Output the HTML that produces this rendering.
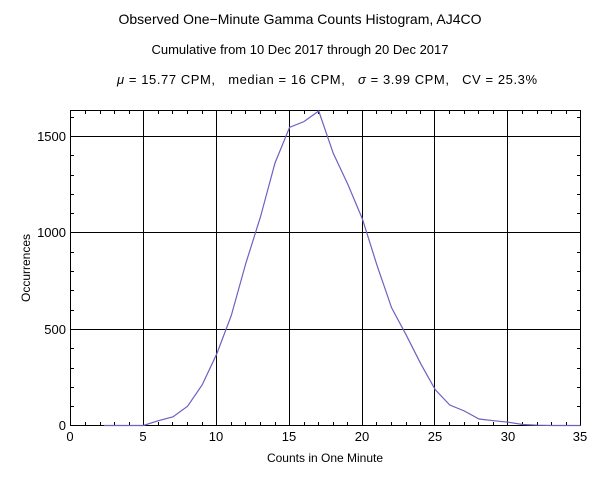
<!DOCTYPE html>
<html><head><style>body{margin:0;background:#fff}</style></head><body>
<svg width="600" height="485" xmlns="http://www.w3.org/2000/svg" font-family="Liberation Sans, sans-serif">
<rect width="600" height="485" fill="#fff"/>
<text x="300" y="24" font-size="14" text-anchor="middle">Observed One−Minute Gamma Counts Histogram, AJ4CO</text>
<text x="300" y="54" font-size="13" text-anchor="middle">Cumulative from 10 Dec 2017 through 20 Dec 2017</text>
<text x="117" y="84" font-size="13" textLength="420" lengthAdjust="spacing" xml:space="preserve"><tspan font-style="italic">μ</tspan> = 15.77 CPM,   median = 16 CPM,   <tspan font-style="italic">σ</tspan> = 3.99 CPM,   CV = 25.3%</text>
<g stroke="#000" stroke-width="1" fill="none">
<rect x="70.5" y="110.5" width="510" height="315"/>
</g>
<g stroke="#000" stroke-width="1">
<line x1="143.5" y1="110" x2="143.5" y2="426"/>
<line x1="216.5" y1="110" x2="216.5" y2="426"/>
<line x1="289.5" y1="110" x2="289.5" y2="426"/>
<line x1="362.5" y1="110" x2="362.5" y2="426"/>
<line x1="434.5" y1="110" x2="434.5" y2="426"/>
<line x1="507.5" y1="110" x2="507.5" y2="426"/>
<line x1="70" y1="136.5" x2="581" y2="136.5"/>
<line x1="70" y1="232.5" x2="581" y2="232.5"/>
<line x1="70" y1="329.5" x2="581" y2="329.5"/>
</g>
<g stroke="#000" stroke-width="1">
<path d="
M85.5 426v-4M100.5 426v-4M114.5 426v-4M129.5 426v-4M158.5 426v-4M172.5 426v-4M187.5 426v-4M202.5 426v-4M231.5 426v-4M245.5 426v-4M260.5 426v-4M275.5 426v-4M304.5 426v-4M318.5 426v-4M333.5 426v-4M347.5 426v-4M376.5 426v-4M391.5 426v-4M406.5 426v-4M420.5 426v-4M449.5 426v-4M464.5 426v-4M478.5 426v-4M493.5 426v-4M522.5 426v-4M537.5 426v-4M551.5 426v-4M566.5 426v-4
M85.5 110v4M100.5 110v4M114.5 110v4M129.5 110v4M158.5 110v4M172.5 110v4M187.5 110v4M202.5 110v4M231.5 110v4M245.5 110v4M260.5 110v4M275.5 110v4M304.5 110v4M318.5 110v4M333.5 110v4M347.5 110v4M376.5 110v4M391.5 110v4M406.5 110v4M420.5 110v4M449.5 110v4M464.5 110v4M478.5 110v4M493.5 110v4M522.5 110v4M537.5 110v4M551.5 110v4M566.5 110v4
M70 406.5h4M70 387.5h4M70 368.5h4M70 348.5h4M70 310.5h4M70 290.5h4M70 271.5h4M70 252.5h4M70 213.5h4M70 194.5h4M70 175.5h4M70 155.5h4M70 117.5h4
M581 406.5h-4M581 387.5h-4M581 368.5h-4M581 348.5h-4M581 310.5h-4M581 290.5h-4M581 271.5h-4M581 252.5h-4M581 213.5h-4M581 194.5h-4M581 175.5h-4M581 155.5h-4M581 117.5h-4"/>
</g>
<polyline fill="none" stroke="#6a62c0" stroke-width="1.2" points="104,425.5 114.6,425.5 129.2,425.5 143.3,425.5 158.4,420.7 173,416.8 187.6,406.2 202.1,385 216.7,354 231.3,315.5 245.8,263.4 260.4,217.1 275,163 289.6,127.3 304.1,121.5 318.7,111 333.3,153.4 347.8,184.3 362.4,219 377,265.3 391.6,307.8 406.1,334.8 420.7,363.7 435.3,389.8 449.8,405 464.4,411 479,419 493.5,420.7 508.1,422.2 522.7,424.5 537.3,425.2 551.8,425.5 566.4,425.5 580.5,425.5"/>
<g font-size="13" text-anchor="end">
<text x="66" y="430">0</text>
<text x="66" y="334">500</text>
<text x="66" y="237">1000</text>
<text x="66" y="141">1500</text>
</g>
<g font-size="13" text-anchor="middle">
<text x="70" y="441">0</text>
<text x="143" y="441">5</text>
<text x="216" y="441">10</text>
<text x="289" y="441">15</text>
<text x="362" y="441">20</text>
<text x="435" y="441">25</text>
<text x="508" y="441">30</text>
<text x="580" y="441">35</text>
<text x="325" y="462" font-size="12">Counts in One Minute</text>
<text transform="translate(30,268) rotate(-90)" font-size="12">Occurrences</text>
</g>
</svg>
</body></html>
